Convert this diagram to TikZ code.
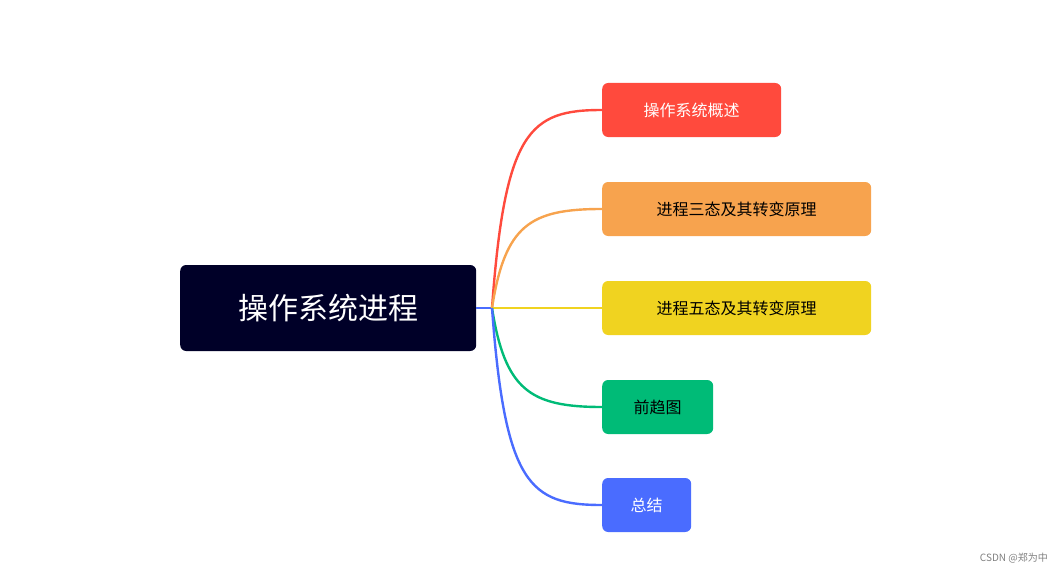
\documentclass[tikz,border=0pt]{standalone}
\usepackage{fontspec}
\setmainfont{Noto Sans CJK SC}
\definecolor{rootc}{HTML}{000028}
\definecolor{cred}{HTML}{FF4A3D}
\definecolor{corange}{HTML}{F7A34E}
\definecolor{cyellow}{HTML}{F0D320}
\definecolor{cgreen}{HTML}{00BB77}
\definecolor{cblue}{HTML}{4A6CFF}
\begin{document}
\begin{tikzpicture}[x=1pt,y=-1pt,
  box/.style={rounded corners=6pt,inner sep=0pt,font=\fontsize{16}{18}\selectfont,minimum height=54pt,anchor=west},
  link/.style={line width=2.4pt}]
\useasboundingbox (0,0) rectangle (1062,575);
\node[box,fill=rootc,text=white,minimum width=296pt,minimum height=86pt,font=\fontsize{30}{34}\selectfont] (root) at (180,308) {操作系统进程};
\coordinate (hub) at (492,308);
\node[box,fill=cred,text=white,minimum width=179pt] (c1) at (602,110) {操作系统概述};
\node[box,fill=corange,minimum width=269pt] (c2) at (602,209) {进程三态及其转变原理};
\node[box,fill=cyellow,minimum width=269pt] (c3) at (602,308) {进程五态及其转变原理};
\node[box,fill=cgreen,minimum width=111pt] (c4) at (602,407) {前趋图};
\node[box,fill=cblue,text=white,minimum width=89pt] (c5) at (602,505) {总结};
\draw[link,cblue] (root.east) -- (hub);
\draw[link,cred] (hub) .. controls (505,130) and (530,110) .. (c1.west);
\draw[link,corange] (hub) .. controls (505,225) and (530,209) .. (c2.west);
\draw[link,cyellow] (hub) -- (c3.west);
\draw[link,cgreen] (hub) .. controls (505,390) and (530,407) .. (c4.west);
\draw[link,cblue] (hub) .. controls (505,485) and (530,505) .. (c5.west);
\node[anchor=east,text=gray,font=\fontsize{10}{12}\selectfont,inner sep=0pt] (wm) at (1048,558) {CSDN @郑为中};
\end{tikzpicture}
\end{document}
